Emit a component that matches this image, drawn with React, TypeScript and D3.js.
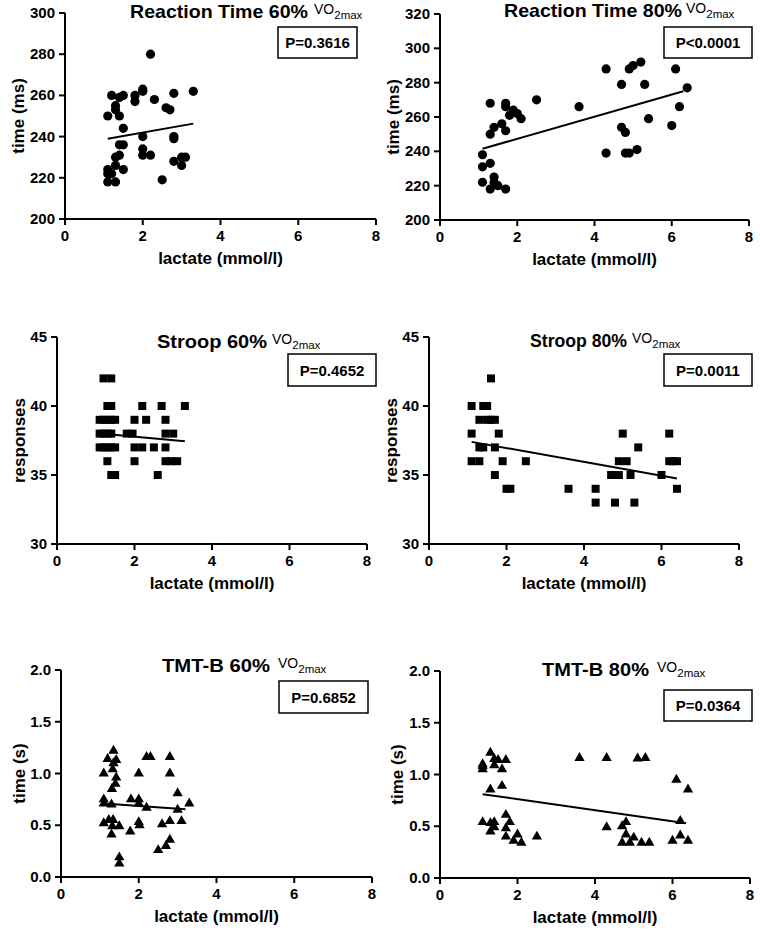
import React from "react";
import * as d3 from "d3";

// ---------- DATA ----------
const xTicks = [0, 2, 4, 6, 8];
const rtTicks60 = [200, 220, 240, 260, 280, 300];
const rtTicks80 = [200, 220, 240, 260, 280, 300, 320];
const stroopTicks = [30, 35, 40, 45];
const tmtTicks = [0, 0.5, 1.0, 1.5, 2.0];

const rt60: [number, number][] = [
  [1.1, 250], [1.2, 260], [1.3, 255], [1.3, 253], [1.4, 259], [1.5, 260], [1.4, 250], [1.5, 244],
  [1.4, 236], [1.5, 236], [1.4, 231], [1.3, 230], [1.3, 226], [1.1, 224], [1.1, 222], [1.2, 222],
  [1.1, 218], [1.3, 218], [1.5, 224], [1.8, 260], [1.8, 257], [2.0, 263], [2.0, 262], [2.3, 258],
  [2.2, 280], [2.0, 240], [2.0, 234], [2.0, 231], [2.2, 231], [2.8, 261], [2.6, 254], [2.7, 253],
  [3.3, 262], [2.8, 240], [2.8, 239], [2.5, 219], [2.8, 228], [3.0, 226], [3.0, 230], [3.1, 230],
];
const rt60Fit: [number, number][] = [[1.1, 239], [3.3, 246.3]];

const rt80: [number, number][] = [
  [1.1, 238], [1.1, 231], [1.1, 222], [1.3, 233], [1.3, 268], [1.3, 250], [1.4, 254], [1.4, 225],
  [1.4, 222], [1.3, 218], [1.5, 220], [1.7, 218], [1.6, 256], [1.7, 252], [1.7, 268], [1.7, 266],
  [1.8, 261], [1.9, 264], [2.0, 262], [2.1, 259], [2.5, 270], [3.6, 266], [4.3, 288], [4.3, 239],
  [4.7, 279], [4.7, 254], [4.8, 251], [4.8, 239], [4.9, 239], [5.1, 241], [4.9, 288], [5.0, 290],
  [5.2, 292], [5.3, 279], [5.4, 259], [6.0, 255], [6.1, 288], [6.2, 266], [6.4, 277],
];
const rt80Fit: [number, number][] = [[1.1, 241.5], [6.3, 275]];

const stroop60: [number, number][] = [
  [1.2, 42], [1.4, 42],
  [1.3, 40], [1.4, 40], [2.2, 40], [2.7, 40], [3.3, 40],
  [1.1, 39], [1.2, 39], [1.3, 39], [1.4, 39], [1.5, 39], [2.0, 39], [2.3, 39], [2.8, 39],
  [1.1, 38], [1.2, 38], [1.3, 38], [1.4, 38], [1.8, 38], [1.95, 38], [2.8, 38], [3.0, 38],
  [1.1, 37], [1.2, 37], [1.3, 37], [1.4, 37], [1.5, 37], [2.0, 37], [2.2, 37], [2.5, 37], [2.8, 37],
  [1.3, 36], [2.0, 36], [2.8, 36], [2.95, 36], [3.1, 36],
  [1.4, 35], [1.5, 35], [2.6, 35],
];
const stroop60Fit: [number, number][] = [[1.1, 38.0], [3.3, 37.45]];

const stroop80: [number, number][] = [
  [1.6, 42],
  [1.1, 40], [1.4, 40], [1.5, 40],
  [1.3, 39], [1.5, 39], [1.6, 39], [1.7, 39],
  [1.1, 38], [1.8, 38], [5.0, 38], [6.2, 38],
  [1.3, 37], [1.4, 37], [1.7, 37], [5.4, 37],
  [1.1, 36], [1.3, 36], [1.9, 36], [2.5, 36], [4.9, 36], [5.1, 36], [6.2, 36], [6.3, 36], [6.4, 36],
  [1.7, 35], [4.7, 35], [4.8, 35], [4.9, 35], [5.2, 35], [6.0, 35],
  [2.0, 34], [2.1, 34], [3.6, 34], [4.3, 34], [6.4, 34],
  [4.3, 33], [4.8, 33], [5.3, 33],
];
const stroop80Fit: [number, number][] = [[1.1, 37.4], [6.4, 34.75]];

const tmt60: [number, number][] = [
  [1.35, 1.22], [1.2, 1.14], [1.42, 1.13], [1.35, 1.1], [1.1, 1.0], [1.33, 1.04], [1.42, 0.96],
  [1.4, 0.9], [1.31, 0.85], [1.1, 0.75], [1.1, 0.71], [1.3, 0.7], [1.1, 0.52], [1.23, 0.55],
  [1.34, 0.55], [1.32, 0.49], [1.3, 0.41], [1.5, 0.49], [1.5, 0.19], [1.5, 0.13], [1.78, 0.44],
  [1.8, 0.75], [2.0, 0.75], [2.0, 0.71], [2.0, 1.0], [2.0, 0.53], [2.02, 0.5], [2.2, 0.67],
  [2.2, 1.16], [2.3, 1.16], [2.8, 1.16], [2.8, 1.0], [2.6, 0.51], [2.5, 0.26], [2.7, 0.3],
  [2.8, 0.36], [2.8, 0.54], [3.0, 0.81], [3.0, 0.65], [3.1, 0.54], [3.3, 0.71],
];
const tmt60Fit: [number, number][] = [[1.1, 0.71], [3.2, 0.655]];

const tmt80: [number, number][] = [
  [1.3, 1.21], [1.1, 1.1], [1.1, 1.05], [1.1, 1.08], [1.4, 1.15], [1.5, 1.14], [1.4, 1.09],
  [1.7, 1.14], [1.6, 1.05], [1.3, 0.855], [1.6, 0.89], [1.1, 0.54], [1.3, 0.53], [1.4, 0.54],
  [1.3, 0.45], [1.4, 0.49], [1.7, 0.61], [1.8, 0.54], [1.7, 0.48], [1.7, 0.4], [1.9, 0.36],
  [2.0, 0.42], [2.1, 0.34], [2.5, 0.4], [3.6, 1.16], [4.3, 1.16], [5.1, 1.155], [5.3, 1.16],
  [4.3, 0.49], [4.7, 0.5], [4.8, 0.54], [4.8, 0.42], [4.7, 0.34], [4.9, 0.34], [5.0, 0.39],
  [5.2, 0.34], [5.4, 0.34], [6.1, 0.95], [6.4, 0.855], [6.2, 0.55], [6.0, 0.36], [6.2, 0.41],
  [6.4, 0.36],
];
const tmt80Fit: [number, number][] = [[1.1, 0.81], [6.35, 0.53]];

// ---------- LAYOUT ----------
type Panel = {
  title: string;
  pText: string;
  yLabel: string;
  yTicks: number[];
  yFmt: (v: number) => string;
  data: [number, number][];
  fit: [number, number][];
  marker: "circle" | "square" | "triangle";
  left: number; right: number; top: number; bottom: number;
  titleX: number; titleW: number; titleY: number; voX: number;
  box: [number, number, number, number];
  yLabelX: number;
};

const intFmt = (v: number) => String(v);
const decFmt = d3.format(".1f");

const panels: Panel[] = [
  { title: "Reaction Time 60%", pText: "P=0.3616", yLabel: "time (ms)", yTicks: rtTicks60, yFmt: intFmt,
    data: rt60, fit: rt60Fit, marker: "circle", left: 65, right: 376, top: 13, bottom: 219,
    titleX: 130, titleW: 178, titleY: 17.5, voX: 314, box: [278, 27, 79, 31], yLabelX: 24 },
  { title: "Reaction Time 80%", pText: "P<0.0001", yLabel: "time (ms)", yTicks: rtTicks80, yFmt: intFmt,
    data: rt80, fit: rt80Fit, marker: "circle", left: 440, right: 749, top: 14, bottom: 220,
    titleX: 504, titleW: 178, titleY: 16.5, voX: 686, box: [664, 27, 88, 31], yLabelX: 399 },
  { title: "Stroop 60%", pText: "P=0.4652", yLabel: "responses", yTicks: stroopTicks, yFmt: intFmt,
    data: stroop60, fit: stroop60Fit, marker: "square", left: 57, right: 367, top: 337, bottom: 544,
    titleX: 157, titleW: 110, titleY: 347.5, voX: 272, box: [288, 354, 88, 32], yLabelX: 25 },
  { title: "Stroop 80%", pText: "P=0.0011", yLabel: "responses", yTicks: stroopTicks, yFmt: intFmt,
    data: stroop80, fit: stroop80Fit, marker: "square", left: 429, right: 739, top: 337, bottom: 544,
    titleX: 530, titleW: 97, titleY: 347, voX: 632, box: [664, 354, 88, 32], yLabelX: 397 },
  { title: "TMT-B 60%", pText: "P=0.6852", yLabel: "time (s)", yTicks: tmtTicks, yFmt: decFmt,
    data: tmt60, fit: tmt60Fit, marker: "triangle", left: 61, right: 372, top: 670, bottom: 877,
    titleX: 162, titleW: 108, titleY: 672, voX: 278, box: [279, 681, 89, 32], yLabelX: 25 },
  { title: "TMT-B 80%", pText: "P=0.0364", yLabel: "time (s)", yTicks: tmtTicks, yFmt: decFmt,
    data: tmt80, fit: tmt80Fit, marker: "triangle", left: 440, right: 750, top: 671, bottom: 878,
    titleX: 542, titleW: 107, titleY: 676, voX: 657, box: [664, 690, 88, 31], yLabelX: 403 },
];

const FONT = "'Liberation Sans', Arial, Helvetica, sans-serif";

function PanelView({ p }: { p: Panel }) {
  const x = d3.scaleLinear().domain([0, 8]).range([p.left, p.right]);
  const yDom = d3.extent(p.yTicks) as [number, number];
  const y = d3.scaleLinear().domain(yDom).range([p.bottom, p.top]);
  const line = d3.line<[number, number]>().x((d) => x(d[0])).y((d) => y(d[1]));
  const sqr = d3.symbol().type(d3.symbolSquare).size(64)() as string;
  const tri = d3.symbol().type(d3.symbolTriangle).size(46)() as string;
  const cx = (p.left + p.right) / 2;
  const cy = (p.top + p.bottom) / 2;
  return (
    <g fontFamily={FONT}>
      {/* title */}
      <text x={p.titleX} y={p.titleY} fontSize={18.5} fontWeight="bold" textLength={p.titleW} lengthAdjust="spacingAndGlyphs" fill="#000">
        {p.title}
      </text>
      <text x={p.voX} y={p.titleY - 4} fontSize={14} fill="#000">
        VO<tspan fontSize={11.5} dy={5}>2max</tspan>
      </text>
      {/* P box */}
      <rect x={p.box[0]} y={p.box[1]} width={p.box[2]} height={p.box[3]} fill="#fff" stroke="#000" strokeWidth={1.5} />
      <text x={p.box[0] + p.box[2] / 2} y={p.box[1] + p.box[3] / 2 + 5.5} textAnchor="middle" fontSize={15} fontWeight="bold">{p.pText}</text>
      {/* axes */}
      <line x1={p.left} x2={p.left} y1={p.top} y2={p.bottom} stroke="#000" strokeWidth={2} />
      <line x1={p.left} x2={p.right} y1={p.bottom} y2={p.bottom} stroke="#000" strokeWidth={2} />
      {p.yTicks.map((t) => (
        <g key={"y" + t}>
          <line x1={p.left - 6} x2={p.left} y1={y(t)} y2={y(t)} stroke="#000" strokeWidth={2} />
          <text x={p.left - 10} y={y(t) + 5} textAnchor="end" fontSize={15} fontWeight="bold">{p.yFmt(t)}</text>
        </g>
      ))}
      {xTicks.map((t) => (
        <g key={"x" + t}>
          <line x1={x(t)} x2={x(t)} y1={p.bottom} y2={p.bottom + 6} stroke="#000" strokeWidth={2} />
          <text x={x(t)} y={p.bottom + 22} textAnchor="middle" fontSize={15} fontWeight="bold">{t}</text>
        </g>
      ))}
      <text x={cx} y={p.bottom + 45} textAnchor="middle" fontSize={17} fontWeight="bold">lactate (mmol/l)</text>
      <text transform={`translate(${p.yLabelX},${cy}) rotate(-90)`} textAnchor="middle" fontSize={17} fontWeight="bold">{p.yLabel}</text>
      {/* points */}
      {p.data.map((d, i) =>
        p.marker === "circle" ? (
          <circle key={i} cx={x(d[0])} cy={y(d[1])} r={4.6} fill="#000" />
        ) : (
          <path key={i} d={p.marker === "square" ? sqr : tri} transform={`translate(${x(d[0])},${y(d[1])})`} fill="#000" />
        )
      )}
      {/* fit line */}
      <path d={line(p.fit) || ""} fill="none" stroke="#000" strokeWidth={2} />
    </g>
  );
}

export default function App() {
  return (
    <svg width={760} height={932} style={{ position: "absolute", left: 0, top: 0, background: "#fff" }}>
      <rect width={760} height={932} fill="#fff" />
      {panels.map((p, i) => (
        <PanelView key={i} p={p} />
      ))}
    </svg>
  );
}
